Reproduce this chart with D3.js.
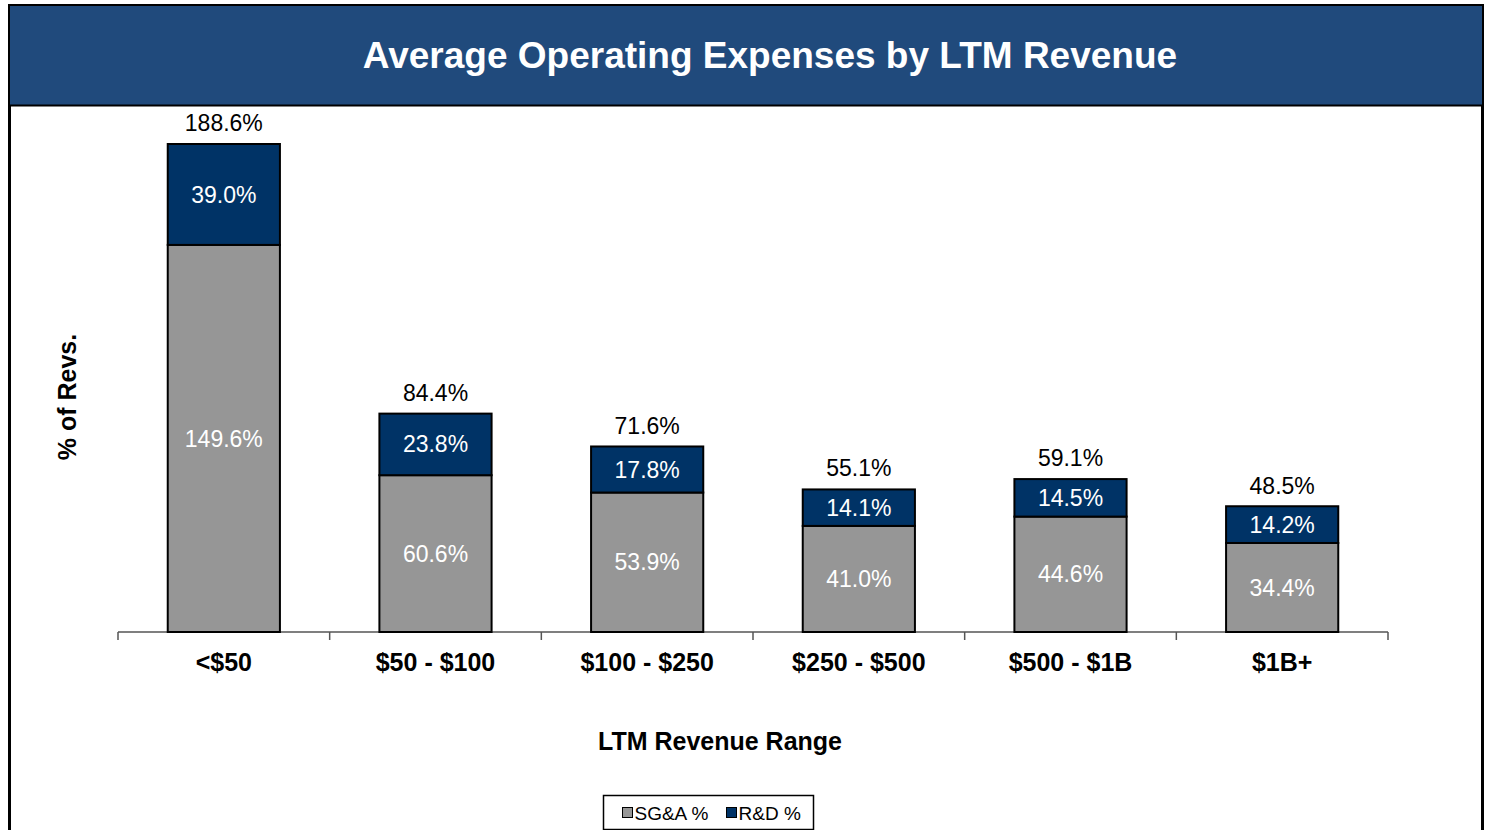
<!DOCTYPE html>
<html>
<head>
<meta charset="utf-8">
<script src="https://cdnjs.cloudflare.com/ajax/libs/d3/7.8.5/d3.min.js"></script>
<style>
  body { margin: 0; background: #fff; }
  svg text { font-family: "Liberation Sans", Arial, sans-serif; }
</style>
</head>
<body>
<div id="chart"></div>
<script>
// data
var categories = ["<$50", "$50 - $100", "$100 - $250", "$250 - $500", "$500 - $1B", "$1B+"];
var sgaValues = [149.6, 60.6, 53.9, 41.0, 44.6, 34.4];
var rdValues = [39.0, 23.8, 17.8, 14.1, 14.5, 14.2];
var totalValues = [188.6, 84.4, 71.6, 55.1, 59.1, 48.5];
var seriesNames = ["SG&A %", "R&D %"];

var svgWidth = 1486, svgHeight = 830;
var colors = {"SG&A %": "#969696", "R&D %": "#003366"};

var svg = d3.select("#chart")
    .append("svg")
    .attr("width", svgWidth)
    .attr("height", svgHeight);

// outer frame + title band
svg.append("rect")
    .attr("x", 9.5).attr("y", 5.5)
    .attr("width", 1473).attr("height", 840)
    .attr("fill", "#fff")
    .attr("stroke", "#000")
    .attr("stroke-width", 3);

svg.append("rect")
    .attr("x", 10).attr("y", 6)
    .attr("width", 1472).attr("height", 99)
    .attr("fill", "#204a7c");

svg.append("line")
    .attr("x1", 10).attr("x2", 1482)
    .attr("y1", 105.5).attr("y2", 105.5)
    .attr("stroke", "#000").attr("stroke-width", 2);

svg.append("text")
    .attr("x", 770).attr("y", 68)
    .attr("text-anchor", "middle")
    .attr("fill", "#fff")
    .attr("font-weight", "bold")
    .attr("font-size", 37)
    .text("Average Operating Expenses by LTM Revenue");

var margin = {left: 118, right: 98, top: 115, bottom: 198};
var width = svgWidth - margin.left - margin.right;
var height = svgHeight - margin.top - margin.bottom;

var chartGroup = svg.append("g")
    .attr("transform", `translate(${margin.left}, ${margin.top})`);

var xScale = d3.scaleBand()
    .domain(categories)
    .range([0, width])
    .paddingInner(0.47)
    .paddingOuter(0.235);

var yScale = d3.scaleLinear()
    .domain([0, 200])
    .range([height, height - 200 * (488 / 188.6)]);

// stack the data
var rows = categories.map(function(c, i) {
    return {cat: c, "SG&A %": sgaValues[i], "R&D %": rdValues[i], total: totalValues[i]};
});
var stacked = d3.stack().keys(seriesNames)(rows);

// x axis with ticks at category boundaries
var bandStep = width / categories.length;
var axisG = chartGroup.append("g")
    .attr("transform", `translate(0, ${height})`);
axisG.append("line")
    .attr("x1", 0).attr("x2", width)
    .attr("stroke", "#555").attr("stroke-width", 1.5);
axisG.selectAll("line.tick")
    .data(d3.range(categories.length + 1))
    .enter()
    .append("line")
    .attr("class", "tick")
    .attr("x1", d => d * bandStep).attr("x2", d => d * bandStep)
    .attr("y1", 0).attr("y2", 8)
    .attr("stroke", "#555").attr("stroke-width", 1.5);

// bars
var layers = chartGroup.selectAll("g.layer")
    .data(stacked)
    .enter()
    .append("g")
    .attr("class", "layer")
    .attr("fill", d => colors[d.key]);

layers.selectAll("rect")
    .data(d => d)
    .enter()
    .append("rect")
    .attr("x", d => xScale(d.data.cat))
    .attr("y", d => yScale(d[1]))
    .attr("width", xScale.bandwidth())
    .attr("height", d => yScale(d[0]) - yScale(d[1]))
    .attr("stroke", "#000")
    .attr("stroke-width", 2);

// segment labels
layers.selectAll("text")
    .data(d => d)
    .enter()
    .append("text")
    .attr("x", d => xScale(d.data.cat) + xScale.bandwidth() / 2)
    .attr("y", d => (yScale(d[0]) + yScale(d[1])) / 2)
    .attr("dy", "0.35em")
    .attr("text-anchor", "middle")
    .attr("fill", "#fff")
    .attr("font-size", 23)
    .text(d => (d[1] - d[0]).toFixed(1) + "%");

// totals above bars
chartGroup.selectAll("text.total")
    .data(rows)
    .enter()
    .append("text")
    .attr("class", "total")
    .attr("x", d => xScale(d.cat) + xScale.bandwidth() / 2)
    .attr("y", d => yScale(d.total) - 13)
    .attr("text-anchor", "middle")
    .attr("fill", "#000")
    .attr("font-size", 23)
    .text(d => d.total.toFixed(1) + "%");

// category labels
chartGroup.selectAll("text.cat")
    .data(categories)
    .enter()
    .append("text")
    .attr("class", "cat")
    .attr("x", d => xScale(d) + xScale.bandwidth() / 2)
    .attr("y", height + 39)
    .attr("text-anchor", "middle")
    .attr("font-weight", "bold")
    .attr("font-size", 25)
    .text(d => d);

// axis titles
svg.append("text")
    .attr("x", 720).attr("y", 750)
    .attr("text-anchor", "middle")
    .attr("font-weight", "bold")
    .attr("font-size", 25)
    .text("LTM Revenue Range");

svg.append("text")
    .attr("transform", "translate(76, 397) rotate(-90)")
    .attr("text-anchor", "middle")
    .attr("font-weight", "bold")
    .attr("font-size", 25)
    .text("% of Revs.");

// legend
var legend = svg.append("g").attr("transform", "translate(603.5, 795.5)");
legend.append("rect")
    .attr("width", 210).attr("height", 34)
    .attr("fill", "#fff")
    .attr("stroke", "#000").attr("stroke-width", 1.5);
var legendX = [19, 123];
seriesNames.forEach(function(name, i) {
    legend.append("rect")
        .attr("x", legendX[i]).attr("y", 12)
        .attr("width", 10).attr("height", 10)
        .attr("fill", colors[name])
        .attr("stroke", "#000").attr("stroke-width", 1);
    legend.append("text")
        .attr("x", legendX[i] + 12).attr("y", 24)
        .attr("font-size", 19)
        .text(name);
});
</script>
</body>
</html>
